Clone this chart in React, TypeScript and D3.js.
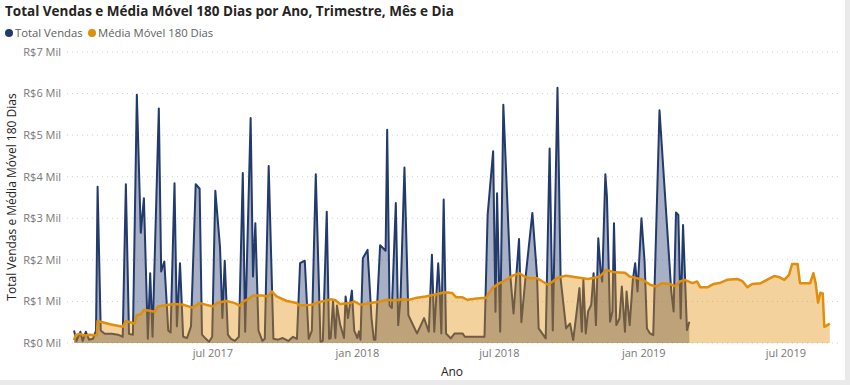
import React from "react";
import * as d3 from "d3";

// daily sales (R$)
const totalVendas: [string, number][] = [
  ["2017-01-05", 300], ["2017-01-08", 50], ["2017-01-13", 270], ["2017-01-16", 50], ["2017-01-20", 270],
  ["2017-01-24", 80], ["2017-01-29", 100], ["2017-02-02", 300], ["2017-02-04", 3760], ["2017-02-08", 300],
  ["2017-02-13", 220], ["2017-02-22", 220], ["2017-03-02", 200], ["2017-03-08", 150], ["2017-03-12", 3820],
  ["2017-03-16", 220], ["2017-03-21", 200], ["2017-03-26", 5970], ["2017-03-31", 2650], ["2017-04-04", 3480],
  ["2017-04-09", 100], ["2017-04-12", 1680], ["2017-04-15", 150], ["2017-04-23", 5640], ["2017-04-26", 1720],
  ["2017-04-30", 1960], ["2017-05-05", 300], ["2017-05-08", 250], ["2017-05-13", 3840], ["2017-05-16", 400],
  ["2017-05-20", 1920], ["2017-05-24", 150], ["2017-05-29", 120], ["2017-06-03", 400], ["2017-06-09", 3820],
  ["2017-06-14", 3710], ["2017-06-17", 200], ["2017-06-22", 100], ["2017-06-26", 30], ["2017-06-30", 150],
  ["2017-07-04", 3660], ["2017-07-10", 2300], ["2017-07-13", 600], ["2017-07-16", 1980], ["2017-07-20", 200],
  ["2017-07-24", 100], ["2017-07-29", 50], ["2017-08-03", 150], ["2017-08-08", 4090], ["2017-08-11", 270],
  ["2017-08-18", 5410], ["2017-08-21", 1600], ["2017-08-24", 2880], ["2017-08-28", 300], ["2017-09-02", 50],
  ["2017-09-05", 100], ["2017-09-10", 4260], ["2017-09-16", 100], ["2017-09-22", 80], ["2017-09-28", 120],
  ["2017-10-05", 50], ["2017-10-11", 150], ["2017-10-16", 100], ["2017-10-20", 1920], ["2017-10-26", 1980],
  ["2017-10-31", 100], ["2017-11-04", 300], ["2017-11-09", 4060], ["2017-11-15", 30], ["2017-11-18", 50],
  ["2017-11-23", 3160], ["2017-11-26", 100], ["2017-11-28", 120], ["2017-12-01", 1000], ["2017-12-04", 120],
  ["2017-12-06", 900], ["2017-12-10", 450], ["2017-12-15", 120], ["2017-12-17", 1120], ["2017-12-20", 600],
  ["2017-12-25", 1260], ["2017-12-28", 300], ["2018-01-01", 120], ["2018-01-03", 280], ["2018-01-05", 80],
  ["2018-01-08", 2040], ["2018-01-14", 2240], ["2018-01-19", 600], ["2018-01-22", 80], ["2018-01-24", 80],
  ["2018-01-30", 2350], ["2018-02-06", 2220], ["2018-02-08", 5130], ["2018-02-11", 900], ["2018-02-14", 840],
  ["2018-02-19", 3370], ["2018-02-22", 430], ["2018-02-25", 1080], ["2018-03-02", 4220], ["2018-03-07", 670],
  ["2018-03-12", 470], ["2018-03-18", 230], ["2018-03-27", 600], ["2018-04-02", 270], ["2018-04-06", 2120],
  ["2018-04-09", 270], ["2018-04-14", 1920], ["2018-04-16", 1240], ["2018-04-18", 230], ["2018-04-21", 3450],
  ["2018-04-24", 230], ["2018-04-30", 110], ["2018-05-05", 230], ["2018-05-15", 230], ["2018-05-18", 150],
  ["2018-05-25", 150], ["2018-06-04", 150], ["2018-06-12", 150], ["2018-06-16", 3080], ["2018-06-23", 4610],
  ["2018-06-26", 750], ["2018-06-28", 3600], ["2018-07-02", 270], ["2018-07-06", 5730], ["2018-07-15", 1600],
  ["2018-07-19", 710], ["2018-07-26", 2500], ["2018-07-29", 500], ["2018-08-03", 1520], ["2018-08-12", 3130],
  ["2018-08-18", 1600], ["2018-08-20", 350], ["2018-08-29", 110], ["2018-09-03", 4680], ["2018-09-07", 300],
  ["2018-09-13", 6140], ["2018-09-17", 1550], ["2018-09-24", 350], ["2018-09-29", 470], ["2018-10-03", 70],
  ["2018-10-07", 680], ["2018-10-11", 1320], ["2018-10-14", 270], ["2018-10-16", 1520], ["2018-10-19", 230],
  ["2018-10-22", 760], ["2018-10-26", 920], ["2018-10-29", 1680], ["2018-11-01", 430], ["2018-11-04", 2520],
  ["2018-11-07", 1720], ["2018-11-09", 1480], ["2018-11-13", 4060], ["2018-11-15", 3530], ["2018-11-19", 510],
  ["2018-11-22", 760], ["2018-11-24", 2880], ["2018-11-27", 430], ["2018-12-01", 590], ["2018-12-04", 1360],
  ["2018-12-08", 270], ["2018-12-10", 1240], ["2018-12-14", 430], ["2018-12-18", 1520], ["2018-12-21", 1920],
  ["2018-12-24", 1240], ["2018-12-29", 3000], ["2019-01-02", 1960], ["2019-01-05", 350], ["2019-01-09", 230],
  ["2019-01-13", 190], ["2019-01-21", 5600], ["2019-02-05", 1240], ["2019-02-08", 760], ["2019-02-11", 3140],
  ["2019-02-14", 3080], ["2019-02-17", 590], ["2019-02-20", 2840], ["2019-02-25", 310], ["2019-02-28", 510],
];

// 180-day moving average (R$)
const mediaMovel: [string, number][] = [
  ["2017-01-05", 70], ["2017-01-07", 190], ["2017-01-12", 220], ["2017-01-19", 180], ["2017-01-25", 200],
  ["2017-02-03", 180], ["2017-02-04", 530], ["2017-02-20", 450], ["2017-03-08", 390], ["2017-03-12", 530],
  ["2017-03-23", 470], ["2017-03-26", 670], ["2017-03-31", 690], ["2017-04-04", 800], ["2017-04-18", 750],
  ["2017-04-22", 880], ["2017-05-05", 920], ["2017-05-13", 940], ["2017-05-24", 920], ["2017-06-05", 850],
  ["2017-06-14", 960], ["2017-07-01", 880], ["2017-07-06", 960], ["2017-07-18", 1010], ["2017-07-29", 960],
  ["2017-08-04", 900], ["2017-08-09", 1000], ["2017-08-17", 1080], ["2017-08-21", 1140], ["2017-09-03", 1140],
  ["2017-09-09", 1120], ["2017-09-14", 1240], ["2017-09-20", 1120], ["2017-10-03", 1010], ["2017-10-16", 960],
  ["2017-10-19", 900], ["2017-11-04", 920], ["2017-11-13", 980], ["2017-11-28", 1050], ["2017-12-04", 1030],
  ["2017-12-10", 940], ["2017-12-23", 960], ["2017-12-28", 1000], ["2018-01-05", 920], ["2018-01-18", 960],
  ["2018-01-30", 1000], ["2018-02-08", 1040], ["2018-02-16", 1020], ["2018-02-27", 1050], ["2018-03-08", 1040],
  ["2018-03-16", 1080], ["2018-03-29", 1120], ["2018-04-13", 1180], ["2018-04-22", 1220], ["2018-05-02", 1200],
  ["2018-05-07", 1100], ["2018-05-15", 1100], ["2018-05-21", 1040], ["2018-06-02", 1070], ["2018-06-14", 1090],
  ["2018-06-22", 1320], ["2018-07-01", 1440], ["2018-07-07", 1490], ["2018-07-18", 1620], ["2018-07-26", 1680],
  ["2018-08-02", 1600], ["2018-08-08", 1560], ["2018-08-18", 1560], ["2018-08-25", 1480], ["2018-09-01", 1400],
  ["2018-09-07", 1480], ["2018-09-13", 1570], ["2018-09-24", 1620], ["2018-10-11", 1570], ["2018-10-22", 1540],
  ["2018-11-06", 1600], ["2018-11-14", 1760], ["2018-11-25", 1700], ["2018-12-08", 1690], ["2018-12-14", 1600],
  ["2018-12-23", 1560], ["2018-12-31", 1520], ["2019-01-09", 1400], ["2019-01-17", 1360], ["2019-01-24", 1440],
  ["2019-02-03", 1420], ["2019-02-10", 1370], ["2019-02-16", 1480], ["2019-02-22", 1520], ["2019-03-04", 1440],
  ["2019-03-10", 1480], ["2019-03-14", 1340], ["2019-03-23", 1340], ["2019-03-31", 1420], ["2019-04-09", 1450],
  ["2019-04-17", 1520], ["2019-04-30", 1540], ["2019-05-07", 1480], ["2019-05-13", 1340], ["2019-05-19", 1420],
  ["2019-05-30", 1440], ["2019-06-05", 1500], ["2019-06-16", 1610], ["2019-06-22", 1590], ["2019-06-29", 1520],
  ["2019-07-05", 1640], ["2019-07-09", 1900], ["2019-07-16", 1900], ["2019-07-19", 1440], ["2019-08-01", 1440],
  ["2019-08-05", 1680], ["2019-08-08", 1440], ["2019-08-11", 970], ["2019-08-14", 1210], ["2019-08-17", 1190],
  ["2019-08-19", 390], ["2019-08-23", 430], ["2019-08-26", 470],
];

const yTicks = [0, 1000, 2000, 3000, 4000, 5000, 6000, 7000];
const xTickDates = ["2017-07-01", "2018-01-01", "2018-07-01", "2019-01-01", "2019-07-01"];
const xTickLabels = ["jul 2017", "jan 2018", "jul 2018", "jan 2019", "jul 2019"];
const xDomain = ["2016-12-27", "2019-09-08"];

const W = 850;
const H = 385;
const FONT = "'Segoe UI', 'Open Sans', sans-serif";
const NAVY = "#233a6c";
const ORANGE = "#e08e0b";

const parse = d3.timeParse("%Y-%m-%d");

export default function App() {
  const x = d3.scaleTime()
    .domain(xDomain.map(d => parse(d) as Date))
    .range([67, 840]);
  const y = d3.scaleLinear().domain([0, 7000]).range([343, 52]);

  const area = d3.area<[string, number]>()
    .x(d => x(parse(d[0]) as Date))
    .y0(y(0))
    .y1(d => y(d[1]));
  const line = d3.line<[string, number]>()
    .x(d => x(parse(d[0]) as Date))
    .y(d => y(d[1]));

  return (
    <svg width={W} height={H} style={{ position: "absolute", left: 0, top: 0 }} fontFamily={FONT}>
      <rect width={W} height={H} fill="#eaeaea" />
      <rect width={845} height={380} fill="#ffffff" />

      <text x={5} y={16} fontSize={13.5} fontWeight={700} fill="#252423">
        Total Vendas e Média Móvel 180 Dias por Ano, Trimestre, Mês e Dia
      </text>

      {/* legend */}
      <circle cx={9} cy={33} r={4} fill={NAVY} />
      <text x={15} y={37} fontSize={11.3} fill="#605e5c">Total Vendas</text>
      <circle cx={92} cy={33} r={4} fill={ORANGE} />
      <text x={98} y={37} fontSize={11.3} fill="#605e5c">Média Móvel 180 Dias</text>

      {/* grid + y ticks */}
      {yTicks.map(t => (
        <g key={t}>
          <line x1={67} x2={840} y1={y(t)} y2={y(t)} stroke="#d0d0d0" strokeDasharray="1 4" />
          <text x={61} y={y(t)} dy="0.35em" textAnchor="end" fontSize={11} fill="#777">
            {`R$${t / 1000} Mil`}
          </text>
        </g>
      ))}

      <text
        transform={`translate(16,197) rotate(-90)`}
        textAnchor="middle"
        fontSize={12}
        fill="#252423"
      >
        Total Vendas e Média Móvel 180 Dias
      </text>

      {/* series */}
      <path d={area(totalVendas) ?? ""} fill={NAVY} fillOpacity={0.4} />
      <path d={line(totalVendas) ?? ""} fill="none" stroke={NAVY} strokeWidth={2} strokeLinejoin="round" />
      <path d={area(mediaMovel) ?? ""} fill={ORANGE} fillOpacity={0.4} />
      <path d={line(mediaMovel) ?? ""} fill="none" stroke={ORANGE} strokeWidth={2.5} strokeLinejoin="round" />

      {/* x ticks */}
      {xTickDates.map((d, i) => (
        <text key={d} x={x(parse(d) as Date)} y={357} textAnchor="middle" fontSize={11} fill="#777">
          {xTickLabels[i]}
        </text>
      ))}
      <text x={452} y={376} textAnchor="middle" fontSize={12} fill="#252423">Ano</text>
    </svg>
  );
}
